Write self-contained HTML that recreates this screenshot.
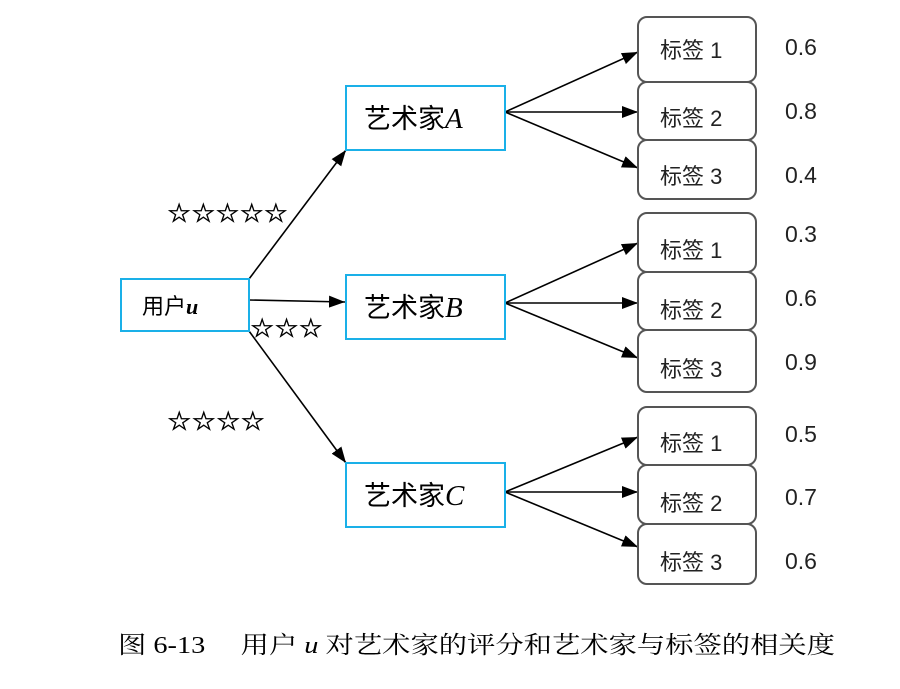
<!DOCTYPE html>
<html><head><meta charset="utf-8"><style>
body{margin:0;background:#fff;}
svg text{font-family:"Liberation Sans","Noto Sans CJK SC",sans-serif;}
</style></head><body>
<svg width="900" height="684" xmlns="http://www.w3.org/2000/svg">
<defs>
<marker id="b" markerWidth="16" markerHeight="12" refX="16" refY="6" orient="auto" markerUnits="userSpaceOnUse"><path d="M0,0 L16,6 L0,12 z" fill="#000"/></marker></defs>
<g stroke="#000" stroke-width="1.6" fill="none">
<line x1="249" y1="279" x2="346" y2="150" marker-end="url(#b)"/>
<line x1="249" y1="300" x2="345" y2="302" marker-end="url(#b)"/>
<line x1="249" y1="331" x2="346" y2="463" marker-end="url(#b)"/>
<line x1="505" y1="112" x2="638" y2="52" marker-end="url(#b)"/>
<line x1="505" y1="112" x2="638" y2="112" marker-end="url(#b)"/>
<line x1="505" y1="112" x2="638" y2="168" marker-end="url(#b)"/>
<line x1="505" y1="303" x2="638" y2="243" marker-end="url(#b)"/>
<line x1="505" y1="303" x2="638" y2="303" marker-end="url(#b)"/>
<line x1="505" y1="303" x2="638" y2="358" marker-end="url(#b)"/>
<line x1="505" y1="492" x2="638" y2="437" marker-end="url(#b)"/>
<line x1="505" y1="492" x2="638" y2="492" marker-end="url(#b)"/>
<line x1="505" y1="492" x2="638" y2="547" marker-end="url(#b)"/>
</g>
<g stroke="#1ab0e8" stroke-width="2" fill="#fff">
<rect x="121" y="279" width="128" height="52"/>
<rect x="346" y="86" width="159" height="64"/>
<rect x="346" y="275" width="159" height="64"/>
<rect x="346" y="463" width="159" height="64"/>
</g>
<g font-size="22" fill="#000">
<text x="142" y="314">用户<tspan font-family="Liberation Serif" font-style="italic" font-weight="bold">u</tspan></text>
<text x="364" y="128" font-size="27">艺术家<tspan font-family="Liberation Serif" font-style="italic" font-size="29">A</tspan></text>
<text x="364" y="317" font-size="27">艺术家<tspan font-family="Liberation Serif" font-style="italic" font-size="29">B</tspan></text>
<text x="364" y="505" font-size="27">艺术家<tspan font-family="Liberation Serif" font-style="italic" font-size="29">C</tspan></text>
</g>
<g font-size="26" fill="#000" stroke="#000" stroke-width="0.6">
<text x="167" y="222" style="font-family:'DejaVu Sans',sans-serif" textLength="121" lengthAdjust="spacingAndGlyphs">☆☆☆☆☆</text>
<text x="250" y="337" style="font-family:'DejaVu Sans',sans-serif" textLength="73" lengthAdjust="spacingAndGlyphs">☆☆☆</text>
<text x="167" y="430" style="font-family:'DejaVu Sans',sans-serif" textLength="98" lengthAdjust="spacingAndGlyphs">☆☆☆☆</text>
</g>
<g stroke="#555" stroke-width="2" fill="#fff">
<rect x="638" y="17" width="118" height="65" rx="9"/>
<rect x="638" y="82" width="118" height="58" rx="9"/>
<rect x="638" y="140" width="118" height="59" rx="9"/>
<rect x="638" y="213" width="118" height="59" rx="9"/>
<rect x="638" y="272" width="118" height="58" rx="9"/>
<rect x="638" y="330" width="118" height="62" rx="9"/>
<rect x="638" y="407" width="118" height="58" rx="9"/>
<rect x="638" y="465" width="118" height="59" rx="9"/>
<rect x="638" y="524" width="118" height="60" rx="9"/>
</g>
<g font-size="22" fill="#222">
<text x="660" y="58">标签 1</text><text x="660" y="126">标签 2</text><text x="660" y="184">标签 3</text>
<text x="660" y="258">标签 1</text><text x="660" y="318">标签 2</text><text x="660" y="377">标签 3</text>
<text x="660" y="451">标签 1</text><text x="660" y="511">标签 2</text><text x="660" y="570">标签 3</text>
</g>
<g font-size="23" fill="#222">
<text x="785" y="55">0.6</text><text x="785" y="119">0.8</text><text x="785" y="183">0.4</text>
<text x="785" y="242">0.3</text><text x="785" y="306">0.6</text><text x="785" y="370">0.9</text>
<text x="785" y="442">0.5</text><text x="785" y="505">0.7</text><text x="785" y="569">0.6</text>
</g>
<text x="118" y="653" font-size="24" textLength="717" lengthAdjust="spacingAndGlyphs" style="font-family:'Liberation Serif','Noto Serif CJK SC',serif">图 6-13　 用户 <tspan font-style="italic">u</tspan> 对艺术家的评分和艺术家与标签的相关度</text>
</svg>
</body></html>
